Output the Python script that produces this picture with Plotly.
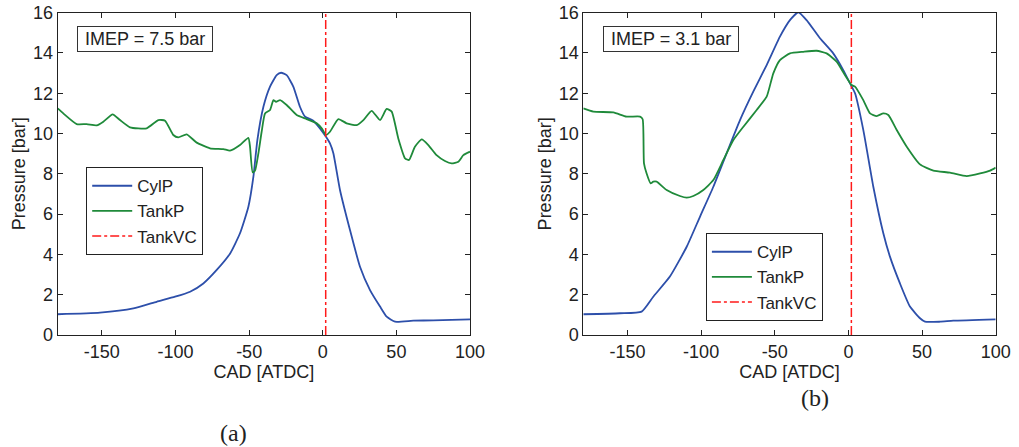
import plotly.graph_objects as go

# ---------------- data (a) IMEP = 7.5 bar ----------------
a_cyl_x = [-180, -151.3, -128.6, -112.8, -100.3, -90.1, -81.1, -72.0, -62.9, -56.2, -50.5, -47.1,
           -44.4, -40.3, -35.8, -31.3, -28.3, -24.5, -20.0, -15.5, -12.0, -6.4, -1.9, 2.2, 4.9,
           7.2, 11.7, 18.5, 25.3, 32.1, 38.9, 43.4, 49.1, 61.5, 75.1, 100]
a_cyl_y = [1.03, 1.11, 1.32, 1.65, 1.90, 2.15, 2.56, 3.23, 4.05, 5.05, 6.37, 7.86,
           9.68, 11.33, 12.33, 12.9, 13.02, 12.9, 12.33, 11.33, 10.84, 10.64, 10.26, 9.84, 9.51,
           9.02, 7.2, 5.21, 3.39, 2.23, 1.41, 0.91, 0.66, 0.71, 0.73, 0.78]

a_tank_x = [-180, -176.2, -167.1, -160.3, -153.5, -149.0, -142.7, -137.7, -130.9, -119.6, -111.6,
            -107.1, -101.5, -98.1, -92.4, -85.6, -76.6, -67.5, -63.0, -56.2, -50.5, -49.4, -47.6,
            -46.0, -43.7, -41.5, -39.2, -35.8, -33.5, -31.7, -29.0, -24.5, -17.7, -10.9, -4.1,
            -0.7, 2.2, 4.9, 10.6, 16.2, 23.0, 27.6, 33.2, 38.9, 43.4, 46.8, 51.3, 55.9, 58.6,
            62.6, 67.2, 71.7, 77.3, 83.0, 87.5, 92.1, 95.5, 100]
a_tank_y = [11.25, 11.0, 10.47, 10.47, 10.41, 10.59, 10.95, 10.67, 10.31, 10.26, 10.67,
            10.64, 9.93, 9.81, 9.96, 9.55, 9.27, 9.23, 9.15, 9.43, 9.79, 9.35, 8.07,
            8.16, 9.02, 10.09, 11.0, 11.17, 11.66, 11.58, 11.66, 11.42, 10.92, 10.72, 10.51,
            10.26, 9.93, 10.09, 10.72, 10.51, 10.42, 10.67, 11.13, 10.67, 11.22, 11.09, 9.76, 8.77, 8.69,
            9.35, 9.71, 9.43, 8.93, 8.64, 8.52, 8.60, 8.93, 9.10]

a_vc_x = [2, 2]
a_vc_y = [0, 16]

# ---------------- data (b) IMEP = 3.1 bar ----------------
b_cyl_x = [-180, -155.1, -140.4, -132.5, -121.2, -109.8, -100.8, -91.7, -82.7, -73.6, -64.6,
           -55.5, -46.5, -39.7, -34.0, -28.4, -19.3, -10.3, -3.5, 1.1, 4.5, 10.1, 16.9, 23.7,
           28.2, 35.0, 41.8, 48.6, 52.0, 62.2, 71.2, 100]
b_cyl_y = [1.03, 1.08, 1.16, 1.9, 2.9, 4.38, 5.87, 7.36, 9.02, 10.67, 12.08,
           13.40, 14.81, 15.63, 16.02, 15.63, 14.73, 13.98, 13.15, 12.49, 12.0, 10.18, 7.36, 5.05,
           3.89, 2.56, 1.41, 0.83, 0.66, 0.66, 0.71, 0.78]

b_tank_x = [-180, -173.2, -159.6, -150.6, -141.5, -139.7, -138.8, -137.0, -134.3, -132.5, -130.2,
            -123.4, -114.4, -109.8, -105.3, -98.5, -91.7, -84.9, -78.1, -71.3, -62.3, -55.5,
            -51.0, -46.5, -39.7, -30.6, -21.6, -14.8, -8.0, -2.3, 2.2, 4.5, 10.1, 14.7, 19.2,
            23.7, 27.1, 32.8, 39.6, 48.6, 57.7, 69.0, 80.3, 89.4, 96.2, 100]
b_tank_y = [11.25, 11.09, 11.05, 10.84, 10.84, 10.71, 8.52, 8.02, 7.53, 7.61, 7.61,
            7.2, 6.9, 6.82, 6.9, 7.2, 7.69, 8.69, 9.68, 10.34, 11.17, 11.83,
            12.99, 13.65, 13.98, 14.06, 14.11, 13.98, 13.57, 12.9, 12.41, 12.33, 11.66, 11.0, 10.87,
            11.0, 10.92, 10.18, 9.35, 8.47, 8.16, 8.06, 7.89, 8.02, 8.16, 8.31]

b_vc_x = [2, 2]
b_vc_y = [0, 16]

x_ticks = [-150, -100, -50, 0, 50, 100]
x_ticktext = ["-150", "-100", "-50", "0", "50", "100"]
y_ticks = [0, 2, 4, 6, 8, 10, 12, 14, 16]
y_ticktext = [str(v) for v in y_ticks]
imep_labels = ["IMEP = 7.5 bar", "IMEP = 3.1 bar"]
panel_labels = ["(a)", "(b)"]

BLUE = "#2D4FAA"
GREEN = "#1F8A3A"
RED = "#FF1A1A"
FONT = "Liberation Sans, Arial, sans-serif"
INK = "#222222"

fig = go.Figure()

panels = [
    (a_cyl_x, a_cyl_y, a_tank_x, a_tank_y, a_vc_x, a_vc_y, "x", "y", "legend"),
    (b_cyl_x, b_cyl_y, b_tank_x, b_tank_y, b_vc_x, b_vc_y, "x2", "y2", "legend2"),
]
for cx, cy, tx, ty, vx, vy, xa, ya, lg in panels:
    fig.add_trace(go.Scatter(x=cx, y=cy, mode="lines", name="CylP", xaxis=xa, yaxis=ya,
                             legend=lg, line=dict(color=BLUE, width=1.8, shape="spline", smoothing=0.5)))
    fig.add_trace(go.Scatter(x=tx, y=ty, mode="lines", name="TankP", xaxis=xa, yaxis=ya,
                             legend=lg, line=dict(color=GREEN, width=1.8, shape="spline", smoothing=0.5)))
    fig.add_trace(go.Scatter(x=vx, y=vy, mode="lines", name="TankVC", xaxis=xa, yaxis=ya,
                             legend=lg, line=dict(color=RED, width=1.5, dash="dashdot")))

W, H = 1019, 447
y_dom = [(H - 335) / H, (H - 12.7) / H]
x_dom1 = [57.7 / W, 470 / W]
x_dom2 = [583.3 / W, 995.7 / W]

axis_common = dict(showline=True, linecolor=INK, linewidth=1, mirror="allticks",
                   ticks="inside", ticklen=5, tickcolor=INK, showgrid=False,
                   zeroline=False, automargin=False,
                   tickfont=dict(family=FONT, size=18, color=INK))

def xaxis(dom, anchor):
    return dict(domain=dom, anchor=anchor, range=[-180, 100], tickvals=x_ticks,
                ticktext=x_ticktext,
                title=dict(text="CAD [ATDC]", font=dict(family=FONT, size=18, color=INK),
                           standoff=0),
                **axis_common)

def yaxis(anchor):
    return dict(domain=y_dom, anchor=anchor, range=[0, 16], tickvals=y_ticks,
                ticktext=y_ticktext,
                title=dict(text="Pressure [bar]", font=dict(family=FONT, size=18, color=INK),
                           standoff=2),
                **axis_common)

legend_common = dict(bgcolor="white", bordercolor=INK, borderwidth=1.2,
                     font=dict(family=FONT, size=17, color=INK),
                     xanchor="left", yanchor="top", tracegroupgap=0, itemwidth=40)

fig.update_layout(
    width=W, height=H,
    margin=dict(l=0, r=0, t=0, b=0, autoexpand=False),
    paper_bgcolor="white", plot_bgcolor="white",
    showlegend=True,
    xaxis=xaxis(x_dom1, "y"), yaxis=yaxis("x"),
    xaxis2=xaxis(x_dom2, "y2"), yaxis2=yaxis("x2"),
    legend=dict(x=86 / W, y=(H - 167) / H, **legend_common),
    legend2=dict(x=705.7 / W, y=(H - 233) / H, **legend_common),
)

# IMEP boxes
for lbl, xpx in zip(imep_labels, [77, 603]):
    fig.add_annotation(text="\u00a0" + lbl + "\u00a0", xref="paper", yref="paper",
                       x=xpx / W, y=(H - 26) / H,
                       xanchor="left", yanchor="top", showarrow=False,
                       font=dict(family=FONT, size=18, color=INK),
                       bordercolor="#333333", borderwidth=1, borderpad=2, bgcolor="white")

# panel labels
for lbl, xpx, ypx in zip(panel_labels, [233, 815], [433, 398]):
    fig.add_annotation(text=lbl, xref="paper", yref="paper", x=xpx / W, y=(H - ypx) / H,
                       xanchor="center", yanchor="middle", showarrow=False,
                       font=dict(family="Liberation Serif, Times New Roman, serif", size=24,
                                 color=INK))

fig.write_html("out.html", config={"displayModeBar": False},
               post_script="document.body.style.margin='0';document.body.style.overflow='hidden';")
